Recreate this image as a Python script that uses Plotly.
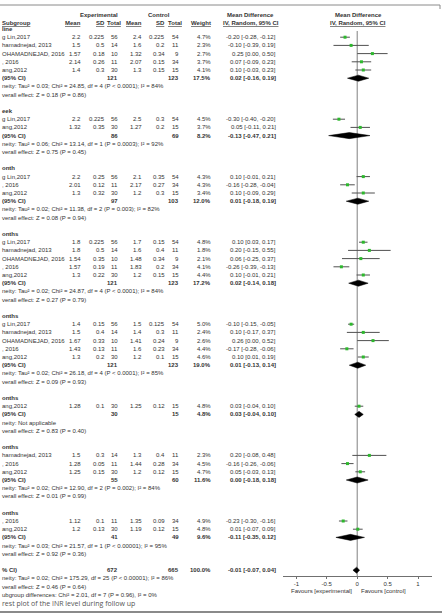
import plotly.graph_objects as go

W, H = 442, 615
FONT = "Liberation Sans, Arial, sans-serif"

# ---------------- data ----------------
group_labels = ["line", "eek", "onth", "onths", "onths", "onths", "onths", "onths"]

study_names = [
    "g Lin,2017", "hamadnejad, 2013", "OHAMADNEJAD, 2016", ", 2016", "ang,2012",
    "g Lin,2017", "ang,2012",
    "g Lin,2017", ", 2016", "ang,2012",
    "g Lin,2017", "hamadnejad, 2013", "OHAMADNEJAD, 2016", ", 2016", "ang,2012",
    "g Lin,2017", "hamadnejad, 2013", "OHAMADNEJAD, 2016", ", 2016", "ang,2012",
    "ang,2012",
    "hamadnejad, 2013", ", 2016", "ang,2012",
    ", 2016", "ang,2012",
]
study_group = [0] * 5 + [1] * 2 + [2] * 3 + [3] * 5 + [4] * 5 + [5] + [6] * 3 + [7] * 2

exp_mean = [2.2, 1.5, 1.57, 2.14, 1.4, 2.2, 1.32, 2.2, 2.01, 1.3, 1.8, 1.8, 1.54, 1.57, 1.3,
            1.4, 1.5, 1.67, 1.43, 1.3, 1.28, 1.5, 1.28, 1.25, 1.12, 1.2]
exp_sd = [0.225, 0.5, 0.18, 0.26, 0.3, 0.225, 0.35, 0.25, 0.12, 0.32, 0.225, 0.5, 0.35, 0.19, 0.22,
          0.15, 0.4, 0.33, 0.13, 0.2, 0.1, 0.3, 0.05, 0.15, 0.1, 0.13]
exp_n = [56, 14, 10, 11, 30, 56, 30, 56, 11, 30, 56, 14, 10, 11, 30,
         56, 14, 10, 11, 30, 30, 14, 11, 30, 11, 30]
ctl_mean = [2.4, 1.6, 1.32, 2.07, 1.3, 2.5, 1.27, 2.1, 2.17, 1.2, 1.7, 1.6, 1.48, 1.83, 1.2,
            1.5, 1.4, 1.41, 1.6, 1.2, 1.25, 1.3, 1.44, 1.2, 1.35, 1.19]
ctl_sd = [0.225, 0.2, 0.34, 0.15, 0.15, 0.3, 0.2, 0.35, 0.27, 0.3, 0.15, 0.4, 0.34, 0.2, 0.15,
          0.125, 0.3, 0.24, 0.23, 0.1, 0.12, 0.4, 0.28, 0.12, 0.09, 0.12]
ctl_n = [54, 11, 9, 34, 15, 54, 15, 54, 34, 15, 54, 11, 9, 34, 15,
         54, 11, 9, 34, 15, 15, 11, 34, 15, 34, 15]
weight = [4.7, 2.3, 2.7, 3.7, 4.1, 4.5, 3.7, 4.3, 4.3, 3.4, 4.8, 1.8, 2.1, 4.1, 4.4,
          5.0, 2.4, 2.6, 4.4, 4.6, 4.8, 2.3, 4.5, 4.7, 4.9, 4.8]
md = [-0.20, -0.10, 0.25, 0.07, 0.10, -0.30, 0.05, 0.10, -0.16, 0.10, 0.10, 0.20, 0.06, -0.26, 0.10,
      -0.10, 0.10, 0.26, -0.17, 0.10, 0.03, 0.20, -0.16, 0.05, -0.23, 0.01]
ci_lo = [-0.28, -0.39, 0.00, -0.09, -0.03, -0.40, -0.11, -0.01, -0.28, -0.09, 0.03, -0.15, -0.25, -0.39, -0.01,
         -0.15, -0.17, 0.00, -0.28, 0.01, -0.04, -0.08, -0.26, -0.03, -0.30, -0.07]
ci_hi = [-0.12, 0.19, 0.50, 0.23, 0.23, -0.20, 0.21, 0.21, -0.04, 0.29, 0.17, 0.55, 0.37, -0.13, 0.21,
         -0.05, 0.37, 0.52, -0.06, 0.19, 0.10, 0.48, -0.06, 0.13, -0.16, 0.09]

grp_exp_n = [121, 86, 97, 121, 121, 30, 55, 41]
grp_ctl_n = [123, 69, 103, 123, 123, 15, 60, 49]
grp_weight = [17.5, 8.2, 12.0, 17.2, 19.0, 4.8, 11.6, 9.6]
grp_md = [0.02, -0.13, 0.01, 0.02, 0.01, 0.03, 0.00, -0.11]
grp_lo = [-0.16, -0.47, -0.18, -0.14, -0.13, -0.04, -0.18, -0.35]
grp_hi = [0.19, 0.21, 0.19, 0.18, 0.14, 0.10, 0.18, 0.12]
grp_het = [
    "neity: Tau² = 0.03; Chi² = 24.85, df = 4 (P < 0.0001); I² = 84%",
    "neity: Tau² = 0.06; Chi² = 13.14, df = 1 (P = 0.0003); I² = 92%",
    "neity: Tau² = 0.02; Chi² = 11.38, df = 2 (P = 0.003); I² = 82%",
    "neity: Tau² = 0.02; Chi² = 24.87, df = 4 (P < 0.0001); I² = 84%",
    "neity: Tau² = 0.02; Chi² = 26.18, df = 4 (P < 0.0001); I² = 85%",
    "neity: Not applicable",
    "neity: Tau² = 0.02; Chi² = 12.90, df = 2 (P = 0.002); I² = 84%",
    "neity: Tau² = 0.03; Chi² = 21.57, df = 1 (P < 0.00001); I² = 95%",
]
grp_effect = [
    "verall effect: Z = 0.18 (P = 0.86)",
    "verall effect: Z = 0.75 (P = 0.45)",
    "verall effect: Z = 0.08 (P = 0.94)",
    "verall effect: Z = 0.27 (P = 0.79)",
    "verall effect: Z = 0.09 (P = 0.93)",
    "verall effect: Z = 0.83 (P = 0.40)",
    "verall effect: Z = 0.01 (P = 0.99)",
    "verall effect: Z = 0.92 (P = 0.36)",
]

total_label = "% CI)"
total_exp_n = 672
total_ctl_n = 665
total_weight = 100.0
total_md, total_lo, total_hi = -0.01, -0.07, 0.04
total_het = "neity: Tau² = 0.02; Chi² = 175.29, df = 25 (P < 0.00001); I² = 86%"
total_effect = "verall effect: Z = 0.46 (P = 0.64)"
subgroup_diff = "ubgroup differences: Chi² = 2.01, df = 7 (P = 0.96), I² = 0%"
caption = "rest plot of the INR level during follow up"

x_ticks = [-1, -0.5, 0, 0.5, 1]
x_ticktext = ["-1", "-0.5", "0", "0.5", "1"]

# ---------------- layout helpers ----------------
ROW0, ROWH = 29.0, 8.2


def prow(p):
    return 1 + (p - ROW0) / ROWH


def fx(p):
    return p / W


COL = dict(em=83, esd=107, en=120, cm=144, csd=167, cn=181, w=213, ci=278)
TXT = "#333333"
annotations = []


def txt(s, xpx, row, anchor="left", bold=False, size=6, color=TXT, family=FONT):
    annotations.append(dict(
        text=f"<b>{s}</b>" if bold else s, x=fx(xpx), xref="paper", y=row, yref="y",
        xanchor=anchor, yanchor="middle", showarrow=False,
        font=dict(size=size, color=color, family=family)))


def ci_text(m, lo, hi):
    return f"{m:.2f} [{lo:.2f}, {hi:.2f}]"


# ---------------- build rows ----------------
study_rows = []
grp_rows = []
row = 1
si = 0
for g, label in enumerate(group_labels):
    txt(label, 0, row, bold=True)
    row += 1
    while si < len(study_names) and study_group[si] == g:
        study_rows.append(row)
        row += 1
        si += 1
    grp_rows.append(row)
    row += 1
    txt(grp_het[g], 0, row)
    row += 1
    txt(grp_effect[g], 0, row)
    row += 2
total_row = row
txt(total_label, 0, total_row, bold=True)
txt(total_het, 0, total_row + 1)
txt(total_effect, 0, total_row + 2)
txt(subgroup_diff, 0, total_row + 3)
txt(caption, 0, total_row + 4.1, size=7, color="#555555", family="Open Sans, sans-serif")

for i, r in enumerate(study_rows):
    txt(study_names[i], 0, r)
    txt(str(exp_mean[i]), COL["em"], r, "right")
    txt(str(exp_sd[i]), COL["esd"], r, "right")
    txt(str(exp_n[i]), COL["en"], r, "right")
    txt(str(ctl_mean[i]), COL["cm"], r, "right")
    txt(str(ctl_sd[i]), COL["csd"], r, "right")
    txt(str(ctl_n[i]), COL["cn"], r, "right")
    txt(f"{weight[i]:.1f}%", COL["w"], r, "right")
    txt(ci_text(md[i], ci_lo[i], ci_hi[i]), COL["ci"], r, "right")

for g, r in enumerate(grp_rows):
    txt("(95% CI)", 0, r, bold=True)
    txt(str(grp_exp_n[g]), COL["en"], r, "right", bold=True)
    txt(str(grp_ctl_n[g]), COL["cn"], r, "right", bold=True)
    txt(f"{grp_weight[g]:.1f}%", COL["w"], r, "right", bold=True)
    txt(ci_text(grp_md[g], grp_lo[g], grp_hi[g]), COL["ci"], r, "right", bold=True)

txt(str(total_exp_n), COL["en"], total_row, "right", bold=True)
txt(str(total_ctl_n), COL["cn"], total_row, "right", bold=True)
txt(f"{total_weight:.1f}%", COL["w"], total_row, "right", bold=True)
txt(ci_text(total_md, total_lo, total_hi), COL["ci"], total_row, "right", bold=True)

# headers
h1, h2 = prow(15), prow(23)
txt("Experimental", 99, h1, "center", bold=True)
txt("Control", 159, h1, "center", bold=True)
txt("Mean Difference", 250, h1, "center", bold=True)
txt("Mean Difference", 358, h1, "center", bold=True)
txt("<u>Subgroup</u>", 0, h2, bold=True)
txt("<u>Mean</u>", COL["em"], h2, "right", bold=True)
txt("<u>SD</u>", COL["esd"], h2, "right", bold=True)
txt("<u>Total</u>", COL["en"] + 3, h2, "right", bold=True)
txt("<u>Mean</u>", COL["cm"], h2, "right", bold=True)
txt("<u>SD</u>", COL["csd"], h2, "right", bold=True)
txt("<u>Total</u>", COL["cn"] + 3, h2, "right", bold=True)
txt("<u>Weight</u>", COL["w"], h2, "right", bold=True)
txt("<u>IV, Random, 95% CI</u>", 251, h2, "center", bold=True)
txt("<u>IV, Random, 95% CI</u>", 358, h2, "center", bold=True)

# favours labels
fav_row = prow(591)
annotations.append(dict(text="Favours [experimental]", x=0, xref="x", y=fav_row, yref="y",
                        xanchor="right", yanchor="middle", xshift=-3, showarrow=False,
                        font=dict(size=6, color=TXT, family=FONT)))
annotations.append(dict(text="Favours [control]", x=0, xref="x", y=fav_row, yref="y",
                        xanchor="left", yanchor="middle", xshift=2, showarrow=False,
                        font=dict(size=6, color=TXT, family=FONT)))

# ---------------- traces ----------------
fig = go.Figure()

# zero reference line
fig.add_trace(go.Scatter(x=[0, 0], y=[prow(31), prow(576)], mode="lines",
                         line=dict(color="#808080", width=1), hoverinfo="skip"))

# study estimates with CIs
fig.add_trace(go.Scatter(
    x=md, y=study_rows, mode="markers",
    marker=dict(symbol="square", size=3, color="#2db82d"),
    error_x=dict(type="data", symmetric=False,
                 array=[h - m for h, m in zip(ci_hi, md)],
                 arrayminus=[m - l for m, l in zip(md, ci_lo)],
                 width=0, thickness=1, color="#505050"),
))

# diamonds
DH = 0.37
for m, lo, hi, r in list(zip(grp_md, grp_lo, grp_hi, grp_rows)) + [(total_md, total_lo, total_hi, total_row)]:
    fig.add_trace(go.Scatter(
        x=[lo, m, hi, m, lo], y=[r, r - DH, r, r + DH, r], mode="lines",
        fill="toself", fillcolor="black", line=dict(color="black", width=0.5),
        hoverinfo="skip"))

shapes = [
    dict(type="line", xref="paper", yref="paper", x0=0, x1=fx(440), y0=1 - 5 / H, y1=1 - 5 / H,
         line=dict(color="#8a8a8a", width=1)),
    dict(type="line", xref="paper", yref="paper", x0=fx(440), x1=fx(440), y0=1 - 5 / H, y1=1 - 9 / H,
         line=dict(color="#8a8a8a", width=1)),
    dict(type="line", xref="paper", yref="paper", x0=0, x1=1, y0=1 - 612 / H, y1=1 - 612 / H,
         line=dict(color="#8a8a8a", width=2)),
]

fig.update_layout(
    width=W, height=H, margin=dict(l=0, r=0, t=0, b=0),
    paper_bgcolor="white", plot_bgcolor="white", showlegend=False,
    annotations=annotations, shapes=shapes,
    xaxis=dict(domain=[fx(283), fx(432)], range=[-1.22, 1.23], anchor="free",
               position=1 - 576 / H, showline=True, linecolor="#707070", linewidth=1,
               ticks="outside", ticklen=2, tickcolor="#707070",
               tickvals=x_ticks, ticktext=x_ticktext,
               tickfont=dict(size=6, color=TXT, family=FONT),
               showgrid=False, zeroline=False, fixedrange=True),
    yaxis=dict(domain=[0, 1], range=[prow(H), prow(0)], visible=False,
               showgrid=False, zeroline=False, fixedrange=True),
)

fig.write_html("out.html")
